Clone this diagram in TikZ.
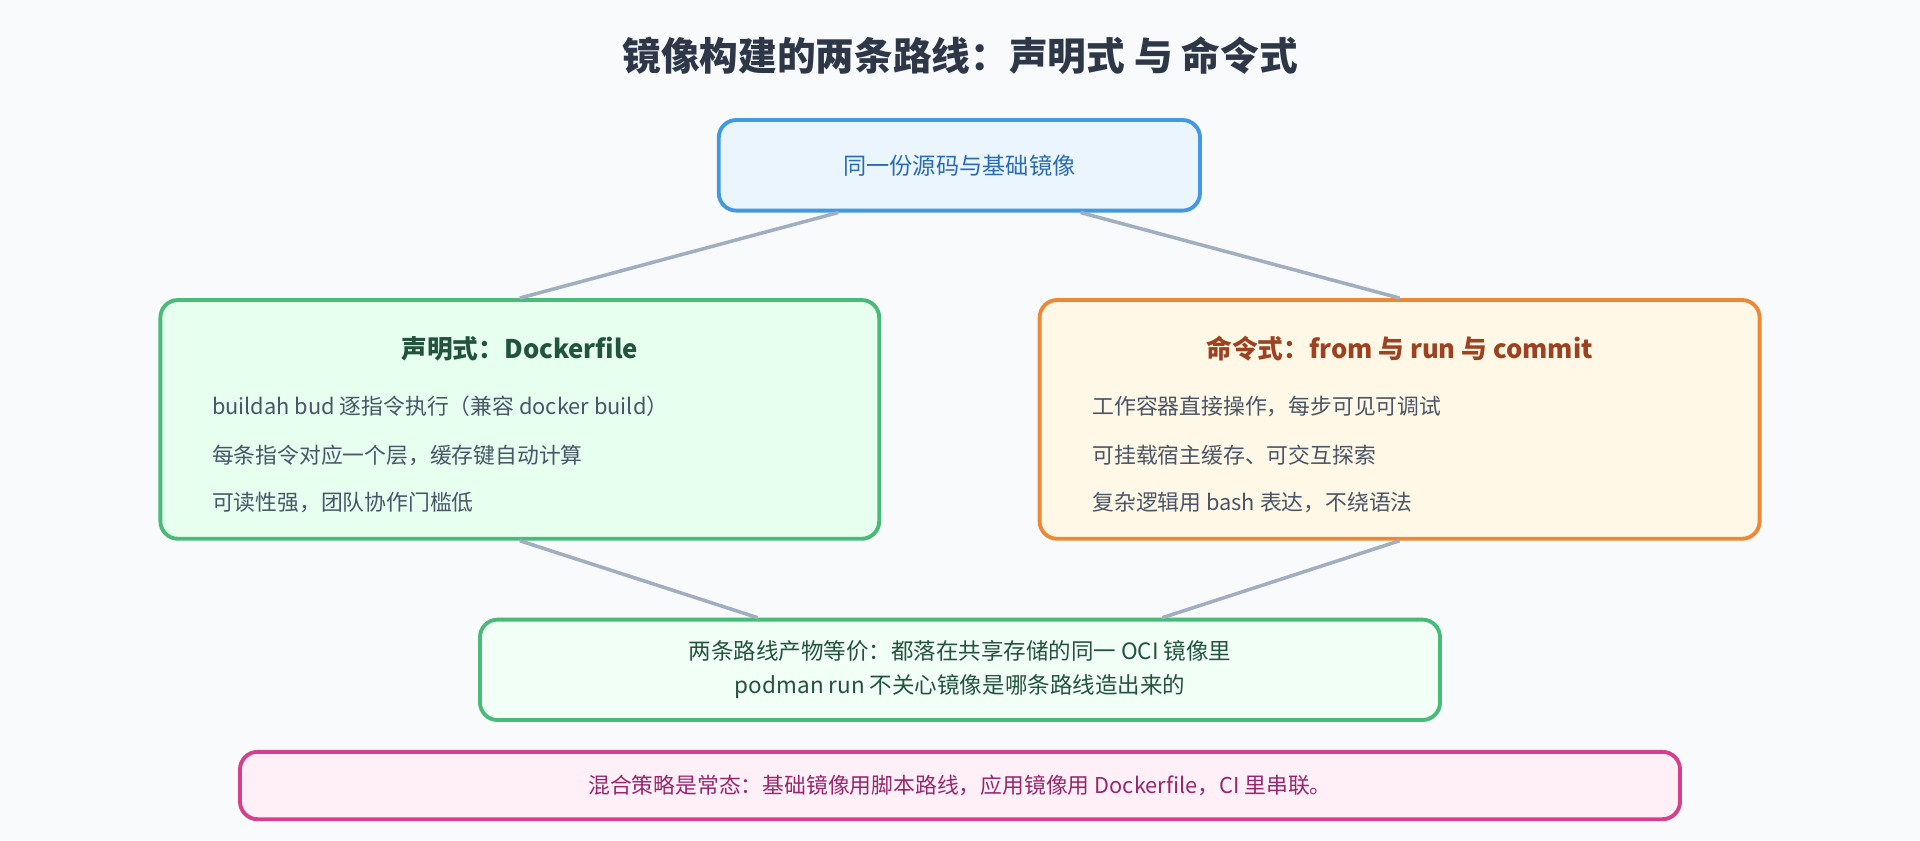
\documentclass[tikz,border=0pt]{standalone}
\usepackage{fontspec}
\setmainfont{Noto Sans CJK SC}
\usetikzlibrary{calc,positioning}
\definecolor{bgc}{HTML}{F8FAFC}
\definecolor{titc}{HTML}{2D3748}
\definecolor{linec}{HTML}{A0AEC0}
\definecolor{bluel}{HTML}{4299E1}\definecolor{bluef}{HTML}{EAF5FE}\definecolor{bluet}{HTML}{2B6CB0}
\definecolor{greenl}{HTML}{48BB78}\definecolor{greenf}{HTML}{E6FFEF}\definecolor{greent}{HTML}{22543D}
\definecolor{orl}{HTML}{ED8936}\definecolor{orf}{HTML}{FFF8E6}\definecolor{ort}{HTML}{9C4221}
\definecolor{pkl}{HTML}{D53F8C}\definecolor{pkf}{HTML}{FFF0F7}\definecolor{pkt}{HTML}{97266D}
\definecolor{bodyt}{HTML}{4A5568}
\newcommand\pxu{0.012245cm}
\begin{document}
\begin{tikzpicture}[x=\pxu,y=-\pxu,
	box/.style = {draw, line width=1.1pt, rounded corners=5pt, inner sep=0pt},
	head/.style = {font=\fontsize{7.3}{9}\selectfont\bfseries},
	item/.style = {anchor=west, text=bodyt, font=\fontsize{6.2}{8}\selectfont},
	link/.style = {draw=linec, line width=1pt}]
\fill[bgc] (0,0) rectangle (1568,686);
\useasboundingbox (0,0) rectangle (1568,686);

\node (title) [text=titc, font=\fontsize{11}{13}\selectfont\bfseries] at (784,45)
	{镜像构建的两条路线：声明式 与 命令式};

% boxes
\node (src) [box, draw=bluel, fill=bluef, minimum width=393*\pxu, minimum height=74*\pxu,
	text=bluet, font=\fontsize{6.6}{8}\selectfont] at (783.5,135) {同一份源码与基础镜像};
\node (decl) [box, draw=greenl, fill=greenf, minimum width=587*\pxu, minimum height=195*\pxu] at (424.5,342.5) {};
\node (imp) [box, draw=orl, fill=orf, minimum width=588*\pxu, minimum height=195*\pxu] at (1143,342.5) {};
\node (res) [box, draw=greenl, fill=greenf!50!white, minimum width=784*\pxu, minimum height=82*\pxu,
	text=greent, align=center, font=\fontsize{6.4}{9.6}\selectfont] at (784,547)
	{两条路线产物等价：都落在共享存储的同一 OCI 镜像里\\podman run 不关心镜像是哪条路线造出来的};
\node (mix) [box, draw=pkl, fill=pkf, minimum width=1176*\pxu, minimum height=55*\pxu,
	text=pkt, font=\fontsize{6.2}{8}\selectfont] at (784,641.5)
	{混合策略是常态：基础镜像用脚本路线，应用镜像用 Dockerfile，CI 里串联。};

% box contents
\node (decl-h) [head, text=greent] at (424.5,285) {声明式：Dockerfile};
\node (decl-1) [item] at (163,332) {buildah bud 逐指令执行（兼容 docker build）};
\node (decl-2) [item] at (163,372) {每条指令对应一个层，缓存键自动计算};
\node (decl-3) [item] at (163,410) {可读性强，团队协作门槛低};
\node (imp-h) [head, text=ort] at (1143,285) {命令式：from 与 run 与 commit};
\node (imp-1) [item] at (882,332) {工作容器直接操作，每步可见可调试};
\node (imp-2) [item] at (882,372) {可挂载宿主缓存、可交互探索};
\node (imp-3) [item] at (882,410) {复杂逻辑用 bash 表达，不绕语法};

%% connectors
\draw [link] ($(src.south west)!0.25!(src.south east)$) -- (decl.north);
\draw [link] ($(src.south west)!0.75!(src.south east)$) -- (imp.north);
\draw [link] (decl.south) -- ($(res.north west)!0.29!(res.north east)$);
\draw [link] (imp.south) -- ($(res.north west)!0.71!(res.north east)$);
\end{tikzpicture}
\end{document}
